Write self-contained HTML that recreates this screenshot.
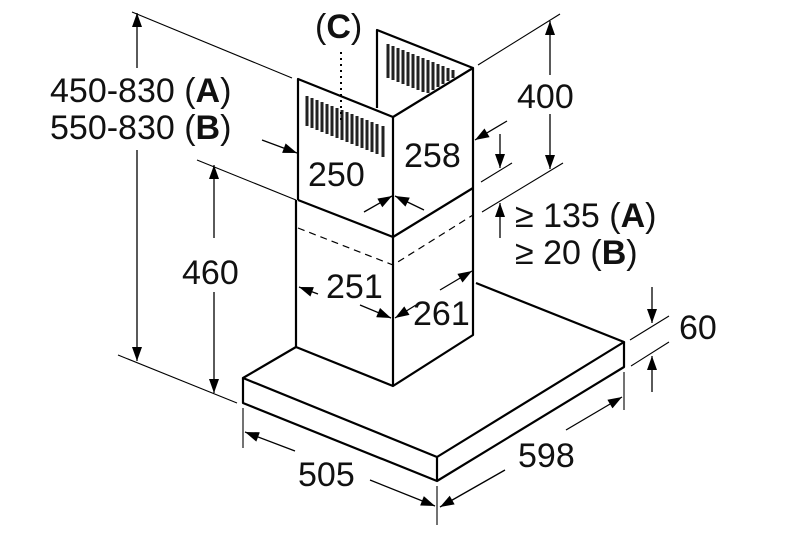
<!DOCTYPE html>
<html><head><meta charset="utf-8"><style>
html,body{margin:0;padding:0;background:#fff;}
svg{display:block;}
text{font-family:"Liberation Sans",Arial,sans-serif;fill:#111;}
</style></head><body>
<svg width="800" height="533" viewBox="0 0 800 533" xmlns="http://www.w3.org/2000/svg">
<defs>
<marker id="a" viewBox="0 0 14 10" refX="14" refY="5" markerWidth="15" markerHeight="10" markerUnits="userSpaceOnUse" orient="auto"><path d="M0,0 L14,5 L0,10 z" fill="#000"/></marker>
</defs>
<g stroke="#000" stroke-width="2.2" fill="none" stroke-linejoin="round">
<path d="M377,108 L377,30 L473,68"/>
<path d="M298,200 L298,79 L393,117 L473,68 L473,335 L393,386 L296,347 L296,200"/>
<path d="M393,117 L393,386"/>
<path d="M298,200 L393,237 L473,188"/>
<path d="M296,347 L243,378 L437,457 L624,342 L476,283"/>
<path d="M243,378 L243,403 L437,481 L624,367 L624,342"/>
<path d="M437,457 L437,481"/>
</g>
<path d="M298,228 L393,265 L473,215" stroke="#000" stroke-width="1.2" stroke-dasharray="7,5" fill="none"/>
<g stroke="#222" stroke-width="3">
<line x1="307" y1="96" x2="307" y2="126"/><line x1="312" y1="98" x2="312" y2="128"/><line x1="317" y1="100" x2="317" y2="130"/><line x1="322" y1="102" x2="322" y2="132"/><line x1="327" y1="104" x2="327" y2="134"/><line x1="332" y1="106" x2="332" y2="136"/><line x1="337" y1="108" x2="337" y2="138"/><line x1="342" y1="110" x2="342" y2="140"/><line x1="347" y1="112" x2="347" y2="142"/><line x1="352" y1="114" x2="352" y2="144"/><line x1="357" y1="116" x2="357" y2="146"/><line x1="362" y1="118" x2="362" y2="148"/><line x1="367" y1="120" x2="367" y2="150"/><line x1="372" y1="122" x2="372" y2="152"/><line x1="377" y1="124" x2="377" y2="154"/><line x1="383" y1="126" x2="383" y2="157"/>
<line x1="388" y1="44" x2="388" y2="78"/><line x1="393" y1="46" x2="393" y2="80"/><line x1="398" y1="48" x2="398" y2="82"/><line x1="403" y1="50" x2="403" y2="84"/><line x1="408" y1="52" x2="408" y2="86"/><line x1="413" y1="54" x2="413" y2="88"/><line x1="418" y1="56" x2="418" y2="90"/><line x1="423" y1="58" x2="423" y2="92"/><line x1="428" y1="60" x2="428" y2="93"/><line x1="433" y1="62" x2="433" y2="90"/><line x1="438" y1="64" x2="438" y2="87"/><line x1="443" y1="66" x2="443" y2="84"/><line x1="448" y1="68" x2="448" y2="81"/><line x1="453" y1="70" x2="453" y2="78"/>
</g>
<line x1="341" y1="52" x2="341" y2="120" stroke="#000" stroke-width="2" stroke-dasharray="2,4"/>
<g stroke="#000" stroke-width="1.1" fill="none">
<line x1="132" y1="12" x2="292" y2="78"/>
<line x1="118" y1="355" x2="237" y2="403"/>
<line x1="197" y1="160" x2="296" y2="200"/>
<line x1="478" y1="65" x2="560" y2="14"/>
<line x1="481" y1="182" x2="512" y2="163"/>
<line x1="482" y1="212" x2="563" y2="163"/>
<line x1="630" y1="340" x2="669" y2="316"/>
<line x1="631" y1="366" x2="669" y2="342"/>
<line x1="243" y1="408" x2="243" y2="448"/>
<line x1="437" y1="486" x2="437" y2="525"/>
<line x1="624" y1="372" x2="624" y2="410"/>
</g>
<g stroke="#000" stroke-width="1.3" fill="none" marker-end="url(#a)">
<line x1="137" y1="68" x2="137" y2="13"/>
<line x1="137" y1="150" x2="137" y2="361"/>
<line x1="214" y1="238" x2="214" y2="165"/>
<line x1="214" y1="292" x2="214" y2="393"/>
<line x1="550" y1="75" x2="550" y2="21"/>
<line x1="550" y1="114" x2="550" y2="169"/>
<line x1="507" y1="121" x2="475" y2="140"/>
<line x1="500" y1="134" x2="500" y2="168"/>
<line x1="500" y1="238" x2="500" y2="203"/>
<line x1="262" y1="140" x2="297" y2="153"/>
<line x1="364" y1="212" x2="392" y2="196"/>
<line x1="424" y1="210" x2="395" y2="196"/>
<line x1="318" y1="294" x2="299" y2="287"/>
<line x1="360" y1="305" x2="391" y2="318"/>
<line x1="416" y1="305" x2="395" y2="318"/>
<line x1="440" y1="290" x2="472" y2="271"/>
<line x1="652" y1="287" x2="652" y2="323"/>
<line x1="652" y1="392" x2="652" y2="356"/>
<line x1="295" y1="451" x2="245" y2="432"/>
<line x1="370" y1="480" x2="435" y2="506"/>
<line x1="566" y1="430" x2="622" y2="397"/>
<line x1="505" y1="470" x2="440" y2="507"/>
</g>
<g font-size="34">
<text x="315" y="38">(<tspan font-weight="bold">C</tspan>)</text>
<text x="50" y="102">450-830 (<tspan font-weight="bold">A</tspan>)</text>
<text x="50" y="139">550-830 (<tspan font-weight="bold">B</tspan>)</text>
<text x="517" y="108">400</text>
<text x="308" y="186">250</text>
<text x="404" y="167">258</text>
<text x="515" y="227">≥ 135 (<tspan font-weight="bold">A</tspan>)</text>
<text x="515" y="264">≥ 20 (<tspan font-weight="bold">B</tspan>)</text>
<text x="182" y="284">460</text>
<text x="326" y="298">251</text>
<text x="413" y="325">261</text>
<text x="679" y="339">60</text>
<text x="298" y="486">505</text>
<text x="518" y="467">598</text>
</g>
</svg>
</body></html>
